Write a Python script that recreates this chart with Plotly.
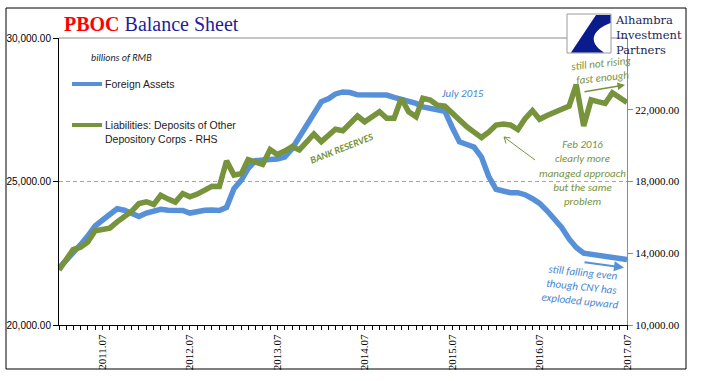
import plotly.graph_objects as go

# ---------------- data ----------------
months = [f"{y}-{m:02d}-01" for y in range(2011, 2018) for m in range(1, 13)][:79]

foreign_assets = [
    21980, 22250, 22500, 22800, 23100, 23450, 23650, 23850, 24050, 24000,
    23900, 23780, 23900, 23980, 24030, 24000, 23990, 23990, 23900, 23970,
    24000, 24010, 23990, 24100, 24750, 25050, 25450, 25730, 25770, 25770,
    25780, 25850, 26150, 26560, 26980, 27350, 27780, 27890, 28050, 28120,
    28100, 28020, 28010, 28010, 28010, 28010, 27930, 27860, 27820, 27720,
    27600, 27540, 27500, 27450, 26900, 26380, 26290, 26200, 25850, 25180,
    24730, 24680, 24610, 24610, 24540, 24400, 24240, 23980, 23700, 23400,
    23000, 22700, 22500, 22470, 22430, 22380, 22340, 22310, 22280,
]

deposits_odc = [
    13070, 13650, 14200, 14340, 14620, 15250, 15330, 15400, 15750, 16070,
    16350, 16770, 16870, 16720, 17230, 17020, 16850, 17330, 17150, 17300,
    17530, 17730, 17720, 19150, 18360, 18440, 19220, 19050, 18950, 19780,
    19500, 19700, 19950, 19760, 20200, 20650, 20220, 20560, 20910, 20830,
    21250, 21650, 21330, 21600, 21890, 21520, 21520, 22640, 21890, 21610,
    22640, 22540, 22250, 22200, 21800, 21450, 21050, 20750, 20450, 20750,
    21150, 21200, 21150, 20900, 21500, 21950, 21470, 21680, 21900, 22030,
    22200, 23400, 21100, 22550, 22450, 22350, 22950, 22700, 22400,
]

x_tick_dates = ["2011-07-01", "2012-07-01", "2013-07-01", "2014-07-01",
                "2015-07-01", "2016-07-01", "2017-07-01"]
x_tick_text = ["2011.07", "2012.07", "2013.07", "2014.07",
               "2015.07", "2016.07", "2017.07"]
left_ticks = [20000, 25000, 30000]
right_ticks = [10000, 14000, 18000, 22000]

# ---------------- layout helpers ----------------
W, H = 705, 381
L, R, T, B = 59, 627, 38, 325


def px(x):
    return (x - L) / (R - L)


def py(y):
    return (B - y) / (B - T)


BLUE = "#5590D9"
GREEN = "#77933C"
CAL = "Carlito, Lato, sans-serif"
SERIF = "Liberation Serif, Times New Roman, serif"

fig = go.Figure()
fig.add_trace(go.Scatter(x=months, y=foreign_assets, mode="lines",
                         line=dict(color=BLUE, width=5.5), yaxis="y",
                         name="Foreign Assets", showlegend=False))
fig.add_trace(go.Scatter(x=months, y=deposits_odc, mode="lines",
                         line=dict(color=GREEN, width=5.5), yaxis="y2",
                         name="Liabilities: Deposits of Other Depository Corps - RHS",
                         showlegend=False))

shapes = []
# outer border
shapes.append(dict(type="rect", xref="paper", yref="paper",
                   x0=px(6), x1=px(686), y0=py(369), y1=py(8),
                   line=dict(color="black", width=1), layer="below"))
# dashed gridline at 25,000
shapes.append(dict(type="line", xref="paper", yref="y", x0=0, x1=1,
                   y0=25000, y1=25000,
                   line=dict(color="#A6A6A6", width=1, dash="4px,3px"), layer="below"))
# top solid line
shapes.append(dict(type="line", xref="paper", yref="paper", x0=0, x1=1,
                   y0=1, y1=1, line=dict(color="#8C8C8C", width=1), layer="below"))
# legend swatches
shapes.append(dict(type="line", xref="paper", yref="paper", x0=px(72), x1=px(102),
                   y0=py(84), y1=py(84), line=dict(color=BLUE, width=4)))
shapes.append(dict(type="line", xref="paper", yref="paper", x0=px(72), x1=px(102),
                   y0=py(125), y1=py(125), line=dict(color=GREEN, width=4)))
# logo box
shapes.append(dict(type="rect", xref="paper", yref="paper",
                   x0=px(567), x1=px(611), y0=py(53), y1=py(14),
                   fillcolor="white", line=dict(color="#9A9A9A", width=1)))


def path(points, close=True):
    s = ""
    for cmd, pts in points:
        s += cmd + " " + " ".join(f"{px(a):.5f},{py(b):.5f}" for a, b in pts) + " "
    return s + ("Z" if close else "")


# logo swoosh
shapes.append(dict(type="path", xref="paper", yref="paper",
                   path=path([("M", [(596, 15)]), ("L", [(610.5, 15)]),
                              ("L", [(610.5, 23)]),
                              ("C", [(594, 29), (586, 41), (604, 52.5)]),
                              ("L", [(571, 52.5)])]),
                   fillcolor="#0A1C8C", line=dict(width=0)))
# Feb 2016 arrow (open head)
shapes.append(dict(type="path", xref="paper", yref="paper",
                   path=path([("M", [(535, 160)]), ("L", [(504, 137)]),
                              ("M", [(506, 143.5)]), ("L", [(504, 137)]),
                              ("L", [(510.5, 138)])], close=False),
                   line=dict(color=GREEN, width=1)))

annotations = []


def txt(text, x, y, size, color, family, xanchor="center", angle=0, align="center"):
    annotations.append(dict(text=text, x=px(x), y=py(y), xref="paper", yref="paper",
                            showarrow=False, xanchor=xanchor, yanchor="middle",
                            textangle=angle, align=align,
                            font=dict(size=size, color=color, family=family)))


# title
txt("<b><span style='color:#FF0000'>PBOC</span></b> "
    "<span style='color:#1F1F9A'>Balance Sheet</span>",
    151, 24, 20, "#1F1F9A", SERIF)
txt("<i>billions of RMB</i>", 89, 57, 10, "#222222", CAL, xanchor="left")
# legend text
txt("Foreign Assets", 103, 84, 10.5, "#222222",
    "Liberation Sans Narrow, Liberation Sans, Arial", xanchor="left")
txt("Liabilities: Deposits of Other<br>Depository Corps - RHS", 103, 131.5, 10.5,
    "#222222", "Liberation Sans Narrow, Liberation Sans, Arial",
    xanchor="left", align="left")
# logo text
txt("Alhambra<br>Investment<br>Partners", 613, 35, 11.5, "#1B1F55",
    "DejaVu Serif, serif", xanchor="left", align="left")
# chart notes
txt("<i>July 2015</i>", 462, 93, 11, "#4A86CF", CAL)
txt("<b><i>BANK RESERVES</i></b>", 341, 148, 10, GREEN, CAL, angle=-21.5)
txt("<i>still not rising<br>fast enough</i>", 602, 70, 11, GREEN, CAL, angle=-6)
txt("<i>Feb 2016<br>clearly more<br>managed approach<br>but the same<br>problem</i>",
    582, 172.5, 11, GREEN, CAL)
txt("<i>still falling even<br>though CNY has<br>exploded upward</i>",
    581, 287, 11, "#4A86CF", CAL, angle=6)

# arrows
annotations.append(dict(x=px(625), y=py(85), xref="paper", yref="paper",
                        ax=583 - 625, ay=92 - 85, text="", showarrow=True,
                        arrowhead=2, arrowsize=1, arrowwidth=1.5, arrowcolor=GREEN))
annotations.append(dict(x=px(624), y=py(267.5), xref="paper", yref="paper",
                        ax=583 - 624, ay=262 - 267.5, text="", showarrow=True,
                        arrowhead=2, arrowsize=1, arrowwidth=2, arrowcolor=BLUE))

fig.update_layout(
    width=W, height=H,
    margin=dict(l=L, r=W - R, t=T, b=H - B, pad=0),
    template="none",
    paper_bgcolor="white", plot_bgcolor="rgba(0,0,0,0)",
    showlegend=False,
    shapes=shapes, annotations=annotations,
    xaxis=dict(
        range=[months[0], months[-1]], type="date",
        tickvals=x_tick_dates, ticktext=x_tick_text, tickangle=-90,
        showline=True, linecolor="black", linewidth=1,
        ticks="outside", ticklen=4, tickcolor="black",
        showgrid=False, zeroline=False, automargin=False,
        tickfont=dict(family=SERIF, size=11, color="black"),
        minor=dict(dtick="M1", tick0=months[0], ticks="outside", ticklen=4,
                   tickcolor="black", showgrid=False),
    ),
    yaxis=dict(
        range=[20000, 30000], tickvals=left_ticks, tickformat=",.2f",
        showline=True, linecolor="black", linewidth=1,
        ticks="outside", ticklen=5, tickcolor="black",
        showgrid=False, zeroline=False, automargin=False,
        tickfont=dict(family="Liberation Sans Narrow, Liberation Sans, Arial",
                      size=10, color="black"),
    ),
    yaxis2=dict(
        range=[10000, 26000], tickvals=right_ticks, tickformat=",.2f",
        overlaying="y", side="right",
        showline=True, linecolor="#8C8C8C", linewidth=1,
        ticks="outside", ticklen=5, tickcolor="#8C8C8C",
        showgrid=False, zeroline=False, automargin=False,
        tickfont=dict(family=SERIF, size=11, color="black"),
    ),
)

fig.write_html("out.html",
               config={"displayModeBar": False},
               post_script="document.body.style.margin='0';"
                           "document.body.style.overflow='hidden';")
